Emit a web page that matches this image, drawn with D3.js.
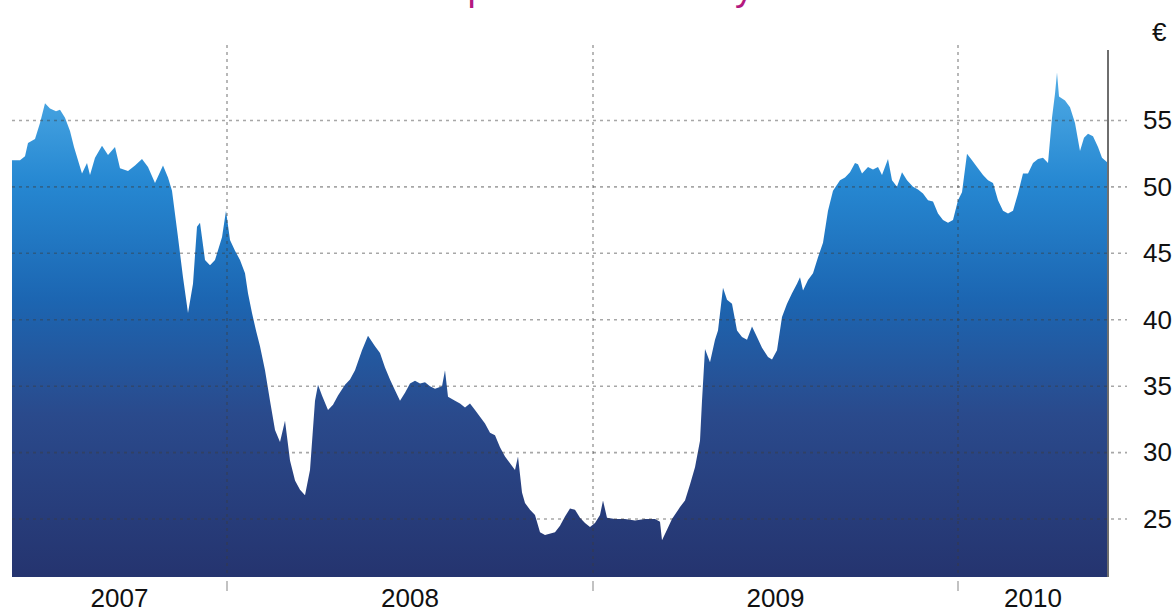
<!DOCTYPE html>
<html>
<head>
<meta charset="utf-8">
<script src="https://cdn.jsdelivr.net/npm/d3@7"></script>
<style>
  body { margin: 0; background: #fff; }
  svg { display: block; font-family: "Liberation Sans", Arial, sans-serif; }
</style>
</head>
<body>
<div id="chart"></div>
<script>
// share price
const dates = [
  "2007-05-31","2007-06-08","2007-06-13","2007-06-16","2007-06-23","2007-06-28","2007-07-03","2007-07-08",
  "2007-07-14","2007-07-18","2007-07-23","2007-07-28","2007-08-01","2007-08-05","2007-08-09","2007-08-14",
  "2007-08-17","2007-08-22","2007-08-29","2007-09-04","2007-09-11","2007-09-16","2007-09-24","2007-10-01",
  "2007-10-08","2007-10-14","2007-10-21","2007-10-29","2007-11-03","2007-11-07","2007-11-13","2007-11-18",
  "2007-11-23","2007-11-28","2007-12-02","2007-12-05","2007-12-10","2007-12-15","2007-12-20","2007-12-27",
  "2007-12-31","2008-01-04","2008-01-09","2008-01-14","2008-01-19","2008-01-22","2008-01-26","2008-01-30",
  "2008-02-03","2008-02-08","2008-02-13","2008-02-18","2008-02-23","2008-02-28","2008-03-04","2008-03-09",
  "2008-03-14","2008-03-19","2008-03-24","2008-03-29","2008-04-01","2008-04-05","2008-04-11","2008-04-16",
  "2008-04-21","2008-04-28","2008-05-03","2008-05-08","2008-05-15","2008-05-21","2008-05-28","2008-06-02",
  "2008-06-07","2008-06-12","2008-06-17","2008-06-22","2008-06-27","2008-07-02","2008-07-07","2008-07-12",
  "2008-07-17","2008-07-22","2008-07-27","2008-08-03","2008-08-06","2008-08-09","2008-08-16","2008-08-21",
  "2008-08-26","2008-08-31","2008-09-05","2008-09-10","2008-09-15","2008-09-20","2008-09-25","2008-09-30",
  "2008-10-05","2008-10-10","2008-10-15","2008-10-18","2008-10-22","2008-10-25","2008-10-30","2008-11-04",
  "2008-11-09","2008-11-14","2008-11-24","2008-11-29","2008-12-04","2008-12-09","2008-12-14","2008-12-19",
  "2008-12-24","2008-12-29","2009-01-03","2009-01-08","2009-01-11","2009-01-15","2009-01-23","2009-02-02",
  "2009-02-12","2009-02-22","2009-03-04","2009-03-09","2009-03-11","2009-03-16","2009-03-21","2009-03-29",
  "2009-04-03","2009-04-08","2009-04-13","2009-04-18","2009-04-20","2009-04-23","2009-04-28","2009-05-03",
  "2009-05-06","2009-05-11","2009-05-15","2009-05-20","2009-05-25","2009-05-30","2009-06-04","2009-06-09",
  "2009-06-14","2009-06-19","2009-06-25","2009-06-29","2009-07-04","2009-07-09","2009-07-14","2009-07-19",
  "2009-07-24","2009-07-27","2009-07-30","2009-08-04","2009-08-09","2009-08-14","2009-08-19","2009-08-24",
  "2009-08-29","2009-09-05","2009-09-10","2009-09-15","2009-09-20","2009-09-23","2009-09-27","2009-10-03",
  "2009-10-08","2009-10-13","2009-10-17","2009-10-23","2009-10-27","2009-11-01","2009-11-06","2009-11-11",
  "2009-11-17","2009-11-22","2009-11-27","2009-12-02","2009-12-07","2009-12-12","2009-12-17","2009-12-22",
  "2009-12-27","2010-01-01","2010-01-05","2010-01-10","2010-01-15","2010-01-20","2010-01-26","2010-01-31",
  "2010-02-05","2010-02-10","2010-02-15","2010-02-20","2010-02-25","2010-03-02","2010-03-07","2010-03-12",
  "2010-03-17","2010-03-22","2010-03-27","2010-04-01","2010-04-05","2010-04-08","2010-04-10","2010-04-12",
  "2010-04-18","2010-04-23","2010-04-28","2010-05-03","2010-05-07","2010-05-11","2010-05-16","2010-05-21",
  "2010-05-25","2010-05-31"
];
const prices = [
  52.0, 52.0, 52.3, 53.3, 53.6, 54.8, 56.3, 55.9,
  55.7, 55.8, 55.2, 54.2, 53.0, 52.0, 51.0, 51.8,
  50.9, 52.2, 53.1, 52.4, 53.0, 51.4, 51.2, 51.6,
  52.1, 51.5, 50.3, 51.6, 50.7, 49.7, 46.2, 43.2,
  40.5, 42.7, 47.0, 47.3, 44.5, 44.1, 44.5, 46.2,
  48.2, 46.0, 45.2, 44.5, 43.5, 42.0, 40.5, 39.2,
  38.0, 36.2, 33.9, 31.7, 30.8, 32.4, 29.4, 27.9,
  27.2, 26.8, 28.7, 33.9, 35.1, 34.3, 33.2, 33.6,
  34.3, 35.1, 35.5, 36.2, 37.7, 38.8, 38.0, 37.5,
  36.4, 35.5, 34.7, 33.9, 34.5, 35.2, 35.4, 35.2,
  35.3, 35.0, 34.8, 35.0, 36.2, 34.2, 33.9, 33.7,
  33.4, 33.7, 33.2, 32.7, 32.2, 31.5, 31.3, 30.4,
  29.7, 29.2, 28.7, 29.7, 27.0, 26.2, 25.7, 25.3,
  24.0, 23.8, 24.0, 24.5, 25.2, 25.8, 25.7, 25.1,
  24.7, 24.4, 24.7, 25.3, 26.4, 25.1, 25.0, 25.0,
  24.9, 25.0, 25.0, 24.8, 23.4, 24.2, 25.0, 25.9,
  26.4, 27.6, 28.9, 30.9, 33.9, 37.8, 36.8, 38.5,
  39.2, 42.4, 41.5, 41.2, 39.2, 38.7, 38.5, 39.5,
  38.7, 37.9, 37.2, 37.0, 37.7, 40.2, 41.2, 42.0,
  42.7, 43.2, 42.2, 43.0, 43.5, 44.7, 45.8, 48.2,
  49.7, 50.5, 50.7, 51.1, 51.8, 51.7, 51.0, 51.5,
  51.3, 51.5, 50.9, 52.1, 50.5, 50.0, 51.1, 50.5,
  50.0, 49.8, 49.5, 49.0, 48.9, 48.0, 47.5, 47.3,
  47.5, 49.0, 49.6, 52.5, 52.0, 51.5, 50.9, 50.5,
  50.3, 49.0, 48.2, 48.0, 48.2, 49.5, 51.0, 51.0,
  51.8, 52.1, 52.2, 51.8, 55.2, 57.0, 58.6, 56.8,
  56.5, 56.0, 54.8, 52.7, 53.7, 54.0, 53.8, 53.0,
  52.2, 51.8
];
const yearLabels = ["2007", "2008", "2009", "2010"];
const priceTicks = [25, 30, 35, 40, 45, 50, 55];
const chartTitle = "Share price over three years";

const width = 1176;
const height = 613;
const margin = { left: 12, right: 1108, top: 50, bottom: 577 };

const parse = d3.utcParse("%Y-%m-%d");
const data = dates.map((d, i) => ({ date: parse(d), value: prices[i] }));

const x = d3.scaleUtc()
  .domain([parse("2007-05-31"), parse("2010-05-31")])
  .range([margin.left, margin.right]);

const y = d3.scaleLinear()
  .domain([20.64, 60.3])
  .range([margin.bottom, margin.top]);

const svg = d3.select("#chart")
  .append("svg")
  .attr("width", width)
  .attr("height", height);

// title, mostly above the picture edge (as in the source image)
svg.append("text")
  .attr("x", 592)
  .attr("y", 0)
  .attr("text-anchor", "middle")
  .attr("font-size", 37)
  .attr("fill", "#b4197f")
  .text(chartTitle);

const grad = svg.append("defs")
  .append("linearGradient")
  .attr("id", "fade")
  .attr("gradientUnits", "userSpaceOnUse")
  .attr("x1", 0).attr("y1", 70)
  .attr("x2", 0).attr("y2", margin.bottom);
grad.append("stop").attr("offset", "0%").attr("stop-color", "#52ade6");
grad.append("stop").attr("offset", "22%").attr("stop-color", "#2688d2");
grad.append("stop").attr("offset", "45%").attr("stop-color", "#1c66b2");
grad.append("stop").attr("offset", "68%").attr("stop-color", "#2a4a8c");
grad.append("stop").attr("offset", "100%").attr("stop-color", "#25346f");

const area = d3.area()
  .x(d => x(d.date))
  .y0(margin.bottom)
  .y1(d => y(d.value));

svg.append("path")
  .datum(data)
  .attr("d", area)
  .attr("fill", "url(#fade)");

// grid
svg.append("g")
  .selectAll("line")
  .data(priceTicks)
  .enter()
  .append("line")
  .attr("x1", margin.left)
  .attr("x2", 1127)
  .attr("y1", d => y(d))
  .attr("y2", d => y(d))
  .attr("stroke", "rgba(60,60,60,0.45)")
  .attr("stroke-width", 1.6)
  .attr("stroke-dasharray", "3,4");

const yearStarts = x.ticks(d3.utcYear);
svg.append("g")
  .selectAll("line")
  .data(yearStarts)
  .enter()
  .append("line")
  .attr("x1", d => x(d))
  .attr("x2", d => x(d))
  .attr("y1", 45)
  .attr("y2", margin.bottom)
  .attr("stroke", "rgba(60,60,60,0.45)")
  .attr("stroke-width", 1.6)
  .attr("stroke-dasharray", "3,4");

svg.append("g")
  .selectAll("line")
  .data(yearStarts)
  .enter()
  .append("line")
  .attr("x1", d => x(d))
  .attr("x2", d => x(d))
  .attr("y1", margin.bottom + 4)
  .attr("y2", margin.bottom + 14)
  .attr("stroke", "#999")
  .attr("stroke-width", 1.2);

// right axis
svg.append("line")
  .attr("x1", margin.right).attr("x2", margin.right)
  .attr("y1", margin.top).attr("y2", margin.bottom)
  .attr("stroke", "#6e6e6e")
  .attr("stroke-width", 2);

const yAxis = svg.append("g")
  .attr("transform", `translate(${margin.right},0)`)
  .call(d3.axisRight(y).tickValues(priceTicks).tickSize(0).tickPadding(35));
yAxis.select(".domain").remove();
yAxis.selectAll("text")
  .attr("font-size", 26)
  .attr("font-family", "'Liberation Sans', Arial, sans-serif")
  .attr("fill", "#111");

svg.append("text")
  .attr("x", 1152)
  .attr("y", 41)
  .attr("font-size", 26)
  .attr("fill", "#111")
  .text("€");

// year labels, centred on the visible part of each year
const [d0, d1] = x.domain();
svg.append("g")
  .selectAll("text")
  .data(yearLabels)
  .enter()
  .append("text")
  .attr("x", d => {
    const a = parse(d + "-01-01") < d0 ? d0 : parse(d + "-01-01");
    const e = parse((+d + 1) + "-01-01") > d1 ? d1 : parse((+d + 1) + "-01-01");
    return (x(a) + x(e)) / 2;
  })
  .attr("y", 607)
  .attr("text-anchor", "middle")
  .attr("font-size", 26)
  .attr("fill", "#111")
  .text(d => d);
</script>
</body>
</html>
